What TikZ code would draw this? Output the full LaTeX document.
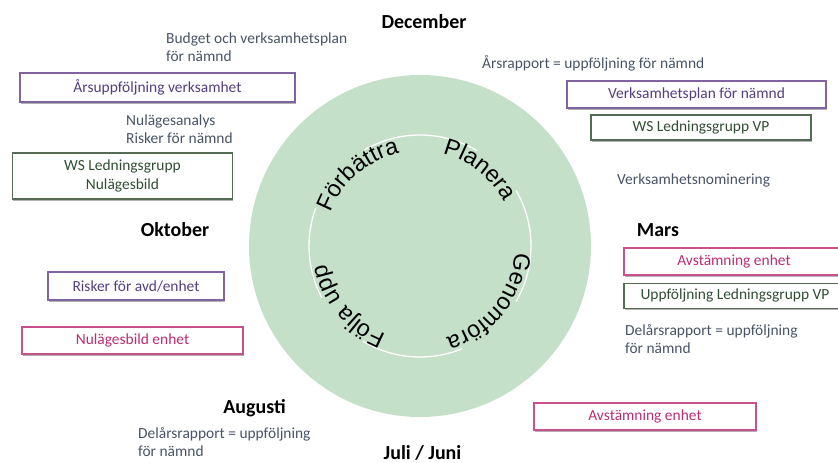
\documentclass[tikz,border=0pt]{standalone}
\usepackage{fontspec}
\setmainfont{Carlito}
\newfontfamily\circfont{Liberation Sans}
\usetikzlibrary{positioning,shadows,decorations.text}

\definecolor{lila}{RGB}{128,100,162}
\definecolor{lilatext}{RGB}{84,62,128}
\definecolor{gron}{RGB}{84,108,84}
\definecolor{grontext}{RGB}{48,78,50}
\definecolor{rosa}{RGB}{200,80,140}
\definecolor{rosatext}{RGB}{190,45,115}
\definecolor{gratext}{RGB}{72,84,102}
\definecolor{hjulgron}{RGB}{196,224,201}

\begin{document}
\begin{tikzpicture}[
        x=1bp, y=1bp,
        font=\fontsize{15.5}{18.5}\selectfont,
        box/.style={draw, fill=white, line width=1.3bp, inner sep=0pt, align=center,
            drop shadow={shadow xshift=0.6bp, shadow yshift=-2bp, opacity=0.3, fill=black}},
        pbox/.style={box, draw=lila, text=lilatext},
        gbox/.style={box, draw=gron, text=grontext},
        mbox/.style={box, draw=rosa, text=rosatext},
        note/.style={text=gratext, align=left, inner sep=0pt},
        month/.style={font=\fontsize{20}{22}\selectfont\bfseries, inner sep=0pt},
        ring/.style={white, line width=1.3bp},
        cykel/.style={decorate, decoration={text along path, text align=center,
            text={|\circfont\fontsize{23.5}{23.5}\selectfont|#1}}},
    ]
        \useasboundingbox (0,0) rectangle (838,-463);
        
        % --- the wheel ---
        \node[circle, fill=hjulgron, minimum size=342bp, inner sep=0pt] (hjul) at (420,-246) {};
        
        \foreach \a/\b in {59/120, 160/208, 239/292, -30/30}
            \draw[ring] ([shift={(\a:111)}]hjul.center) arc[start angle=\a, end angle=\b, radius=111];
        
        \path[cykel=Förbättra] ([shift={(171:95)}]hjul.center) arc[start angle=171, end angle=91, radius=95];
        \path[cykel=Planera]   ([shift={(92:95)}]hjul.center)  arc[start angle=92, end angle=12, radius=95];
        \path[cykel=Genomföra] ([shift={(1:95)}]hjul.center)   arc[start angle=1, end angle=-79, radius=95];
        \path[cykel=Följa upp] ([shift={(260:95)}]hjul.center) arc[start angle=260, end angle=180, radius=95];
        
        % --- months ---
        \node[month] (dec)  at (424,-22)    {December};
        \node[month] (okt)  at (175,-230)   {Oktober};
        \node[month] (mars) at (658,-230)   {Mars};
        \node[month] (aug)  at (254.5,-408) {Augusti};
        \node[month] (juni) at (422.5,-453) {Juli / Juni};
        
        % --- notes ---
        \node[note, anchor=west] (budget)     at (166,-47)  {Budget och verksamhetsplan\\för nämnd};
        \node[note, anchor=west] (arsrapp)    at (482,-63)  {Årsrapport = uppföljning för nämnd};
        \node[note, anchor=west] (nulanalys)  at (126,-129) {Nulägesanalys\\Risker för nämnd};
        \node[note, anchor=west] (nominering) at (617,-180) {Verksamhetsnominering};
        \node[note, anchor=west] (delarmars)  at (625,-339) {Delårsrapport = uppföljning\\för nämnd};
        \node[note, anchor=west] (delaraug)   at (138,-442) {Delårsrapport = uppföljning\\för nämnd};
        
        % --- left side boxes ---
        \node[pbox, minimum width=275bp, minimum height=29bp] (arsupp)   at (157.5,-87.5) {Årsuppföljning verksamhet};
        \node[gbox, minimum width=220bp, minimum height=46bp] (wsnul)    at (122.5,-176)  {WS Ledningsgrupp\\Nulägesbild};
        \node[pbox, minimum width=176bp, minimum height=28bp] (risker)   at (136,-286)    {Risker för avd/enhet};
        \node[mbox, minimum width=221bp, minimum height=27bp] (nulenhet) at (132.5,-340.5) {Nulägesbild enhet};
        
        % --- right side boxes ---
        \node[pbox, minimum width=259bp, minimum height=27bp] (vp)       at (696.5,-94.5) {Verksamhetsplan för nämnd};
        \node[gbox, minimum width=220bp, minimum height=25bp] (wsvp)     at (701,-127.5)  {WS Ledningsgrupp VP};
        \node[mbox, minimum width=220bp, minimum height=27bp] (avstmars) at (734,-261.5)  {Avstämning enhet};
        \node[gbox, minimum width=222bp, minimum height=25bp, below right=7bp and 0bp of avstmars.south west, anchor=north west] (uppflg) {Uppföljning Ledningsgrupp VP};
        \node[mbox, minimum width=222bp, minimum height=27bp] (avstjuni) at (645,-416.5)  {Avstämning enhet};
        
\end{tikzpicture}
\end{document}
